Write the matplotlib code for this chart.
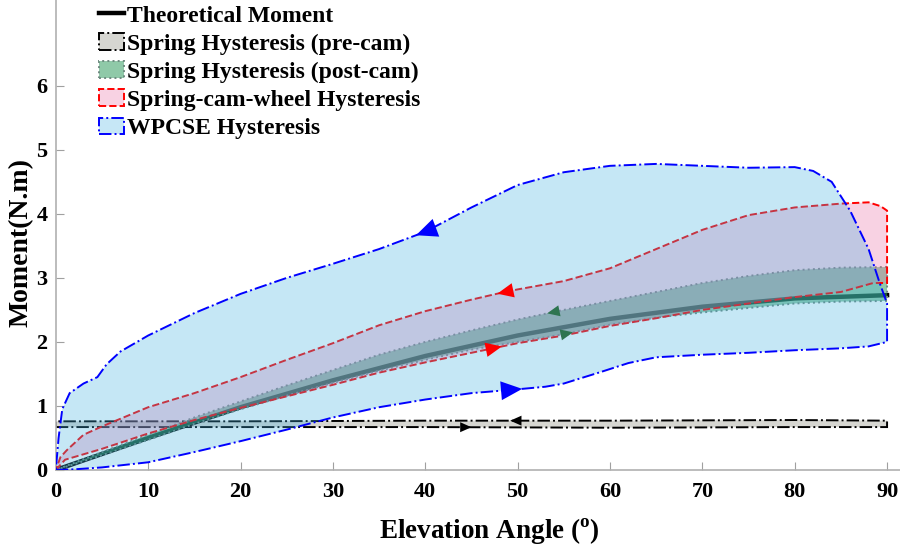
import numpy as np
import matplotlib.pyplot as plt

plt.rcParams['font.family'] = ['Liberation Serif', 'DejaVu Serif']
plt.rcParams['font.weight'] = 'bold'
plt.rcParams['mathtext.fontset'] = 'custom'
plt.rcParams['mathtext.rm'] = 'Liberation Serif:bold'
plt.rcParams['mathtext.bf'] = 'Liberation Serif:bold'

# theoretical moment
th_ang = [0, 10, 20, 30, 40, 50, 60, 70, 80, 90]
th_mom = [0, 0.5, 0.98, 1.4, 1.78, 2.1, 2.36, 2.55, 2.68, 2.73]

# spring hysteresis pre-cam
pre_ang = [0, 20, 40, 60, 80, 90]
pre_load = [0.67, 0.67, 0.67, 0.66, 0.67, 0.67]
pre_unload = [0.76, 0.76, 0.77, 0.77, 0.78, 0.77]

# spring hysteresis post-cam
post_ang = [0, 5, 10, 15, 20, 25, 30, 35, 40, 45, 50, 55, 60, 65, 70, 75, 80, 85, 90]
post_load = [0, 0.23, 0.47, 0.72, 0.95, 1.16, 1.36, 1.55, 1.72, 1.88, 2.0, 2.12, 2.27,
             2.38, 2.46, 2.53, 2.6, 2.63, 2.64]
post_unload = [0, 0.28, 0.55, 0.82, 1.07, 1.32, 1.56, 1.8, 2.0, 2.18, 2.35, 2.5, 2.64,
               2.78, 2.92, 3.03, 3.12, 3.16, 3.17]

# spring-cam-wheel hysteresis
scw_load_ang = [0, 1, 5, 10, 15, 20, 25, 30, 35, 40, 45, 48, 50, 55, 60, 65, 70, 75, 80,
                85, 88.5, 90]
scw_load = [0, 0.16, 0.33, 0.57, 0.78, 0.97, 1.15, 1.33, 1.52, 1.68, 1.83, 1.92, 1.98,
            2.1, 2.25, 2.37, 2.5, 2.6, 2.7, 2.78, 2.92, 2.92]
scw_unload_ang = [0, 0.5, 1.2, 3, 5, 8, 10, 15, 20, 25, 30, 35, 40, 45, 48, 50, 55, 60,
                  65, 70, 75, 80, 85, 88, 89.3, 90]
scw_unload = [0, 0.2, 0.31, 0.55, 0.68, 0.86, 0.98, 1.2, 1.45, 1.72, 1.98, 2.26, 2.48,
              2.66, 2.76, 2.82, 2.95, 3.15, 3.45, 3.75, 3.98, 4.1, 4.16, 4.18, 4.12, 4.05]

# WPCSE hysteresis
wp_load_ang = [0, 2, 5, 10, 15, 20, 25, 30, 35, 40, 45, 50, 53, 55, 57, 59, 62, 65, 70,
               75, 80, 85, 88, 90]
wp_load = [0, 0.01, 0.04, 0.12, 0.28, 0.45, 0.63, 0.82, 0.98, 1.1, 1.2, 1.26, 1.3, 1.35,
           1.44, 1.53, 1.67, 1.76, 1.8, 1.83, 1.87, 1.9, 1.93, 2.0]
wp_unload_ang = [0, 0.3, 0.7, 1.5, 3, 4.5, 5.5, 7, 10, 15, 20, 25, 30, 35, 40, 45, 50, 55,
                 60, 65, 70, 75, 80, 82, 84, 86, 88, 89.2, 90]
wp_unload = [0, 0.5, 0.95, 1.2, 1.35, 1.45, 1.65, 1.85, 2.1, 2.45, 2.75, 3.0, 3.22, 3.45,
             3.72, 4.1, 4.45, 4.65, 4.75, 4.78, 4.75, 4.72, 4.73, 4.67, 4.5, 4.05, 3.45,
             2.92, 2.6]


def loop(a_load, m_load, a_unload, m_unload):
    xs = list(a_load) + list(a_unload)[::-1]
    ys = list(m_load) + list(m_unload)[::-1]
    return xs, ys


def arrow(ax, ang, mom, x, d, color, size):
    y = np.interp(x, ang, mom)
    x0 = x - d * 1.0
    y0 = np.interp(x0, ang, mom)
    ax.annotate('', xy=(x, y), xytext=(x0, y0),
                arrowprops=dict(arrowstyle='-|>,head_length=0.9,head_width=0.4',
                                color=color, lw=0, mutation_scale=size,
                                shrinkA=0, shrinkB=0), zorder=10)


fig = plt.figure(figsize=(9, 5.52), dpi=100)
ax = fig.add_axes([0.062, 0.1486, 0.938, 0.8514])

ax.plot(th_ang, th_mom, color='black', lw=3.2, label='Theoretical Moment', zorder=2)

xs, ys = loop(pre_ang, pre_load, pre_ang, pre_unload)
ax.fill(xs, ys, facecolor='#d6d6d1', edgecolor='black', linestyle='-.', lw=1.4,
        label='Spring Hysteresis (pre-cam)', zorder=1)

xs, ys = loop(post_ang, post_load, post_ang, post_unload)
ax.fill(xs, ys, facecolor=(0.2, 0.62, 0.38, 0.55), edgecolor='#6f8a80', linestyle=':',
        lw=1.4, label='Spring Hysteresis (post-cam)', zorder=3)

xs, ys = loop(scw_load_ang, scw_load, scw_unload_ang, scw_unload)
ax.fill(xs, ys, facecolor=(0.92, 0.42, 0.64, 0.3), edgecolor='red', linestyle='--',
        lw=1.4, label='Spring-cam-wheel Hysteresis', zorder=4)

xs, ys = loop(wp_load_ang, wp_load, wp_unload_ang, wp_unload)
ax.fill(xs, ys, facecolor=(0.25, 0.69, 0.88, 0.3), edgecolor='none', zorder=5)
ax.fill(xs, ys, facecolor='none', edgecolor='blue', linestyle='-.', lw=1.4, zorder=6)
ax.fill([], [], facecolor='#c6e7f6', edgecolor='blue', linestyle='-.', lw=1.4,
        label='WPCSE Hysteresis')

arrow(ax, wp_unload_ang, wp_unload, 39, -1, 'blue', 17)
arrow(ax, wp_load_ang, wp_load, 50.5, 1, 'blue', 17)
arrow(ax, scw_unload_ang, scw_unload, 47.8, -1, 'red', 13)
arrow(ax, scw_load_ang, scw_load, 48.3, 1, 'red', 13)
arrow(ax, post_ang, post_unload, 53.2, -1, '#2e7550', 10)
arrow(ax, post_ang, post_load, 56, 1, '#2e7550', 10)
arrow(ax, pre_ang, pre_unload, 49.2, -1, 'black', 9)
arrow(ax, pre_ang, pre_load, 45, 1, 'black', 9)

ax.set_xlim(0, 91.4)
ax.set_ylim(0, 7.34)
ax.set_xticks(range(0, 91, 10))
ax.set_yticks(range(0, 7))
for s in ['top', 'right']:
    ax.spines[s].set_visible(False)
for s in ['left', 'bottom']:
    ax.spines[s].set_color('#b0b0b0')
    ax.spines[s].set_linewidth(1.2)
ax.tick_params(direction='in', length=6, color='#a0a0a0', labelsize=16)
ax.tick_params(axis='x', pad=9)
ax.tick_params(axis='y', pad=6)

ax.set_xlabel(r'Elevation Angle ($^{\mathbf{o}}$)', fontsize=19.5, fontweight='bold')
ax.xaxis.set_label_coords(0.514, -0.098)
ax.set_ylabel('Moment(N.m)', fontsize=20, fontweight='bold')
ax.yaxis.set_label_coords(-0.026, 0.483)

leg = fig.legend(loc='upper left', bbox_to_anchor=(0.1, 1.008), frameon=False,
                 fontsize=17, handlelength=1.05, handletextpad=0.12,
                 labelspacing=0.28, borderaxespad=0)

fig.savefig('out.png', dpi=100)
